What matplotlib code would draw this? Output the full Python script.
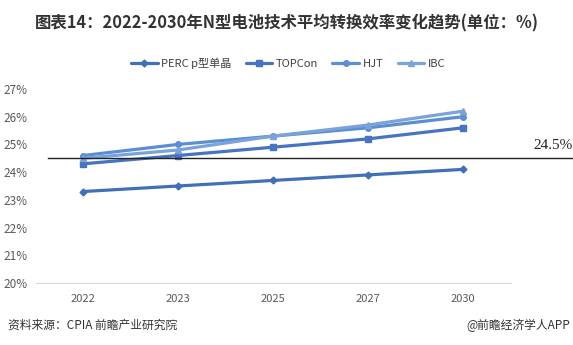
# Average conversion efficiency of N-type cell technologies, 2022-2030
import numpy as np
import matplotlib.pyplot as plt
import matplotlib.transforms as mtransforms

plt.rcParams['font.family'] = ['Noto Sans CJK SC', 'DejaVu Sans']

# Data
years = ['2022', '2023', '2025', '2027', '2030']
perc = [23.3, 23.5, 23.7, 23.9, 24.1]
topcon = [24.3, 24.6, 24.9, 25.2, 25.6]
hjt = [24.6, 25.0, 25.3, 25.6, 26.0]
ibc = [24.5, 24.8, 25.3, 25.7, 26.2]
ref_level = 24.5
yticks = [20, 21, 22, 23, 24, 25, 26, 27]

fig = plt.figure(figsize=(5.73, 3.45), dpi=100)
ax = fig.add_axes([35.5 / 573, 1 - 283 / 345, 475 / 573, 194 / 345])

x = np.arange(len(years))
series = [
    ('PERC p型单晶', perc, '#4170B8', 'D', 3.5),
    ('TOPCon', topcon, '#4674C2', 's', 5),
    ('HJT', hjt, '#5C8ED2', 'o', 4),
    ('IBC', ibc, '#7AA3DC', '^', 4),
]
for name, vals, col, mk, ms in series:
    ax.plot(x, vals, color=col, lw=2.3, marker=mk, markersize=ms,
            label=name, solid_capstyle='round')

# Reference line across the whole plot width
trans = mtransforms.blended_transform_factory(ax.transAxes, ax.transData)
ax.plot([0.027, 1.135], [ref_level, ref_level], color='#222222', lw=1.0,
        transform=trans, clip_on=False)
ax.text(1.13, ref_level + 0.22, '24.5%', transform=trans, ha='right',
        va='bottom', fontsize=11, family='Liberation Serif', color='#222222')

ax.set_xlim(-0.5, len(years) - 0.5)
ax.set_ylim(20, 27)
ax.set_xticks(x)
ax.set_xticklabels(years, fontsize=8, color='#595959')
ax.set_yticks(yticks)
ax.set_yticklabels(['%d%%' % v for v in yticks], fontsize=8.5, color='#595959')
ax.tick_params(length=0, pad=8)
ax.tick_params(axis='y', pad=6)
for s in ['top', 'right', 'left']:
    ax.spines[s].set_visible(False)
ax.spines['bottom'].set_color('#D9D9D9')

fig.legend(loc='center', bbox_to_anchor=(288 / 573, 1 - 63 / 345), ncol=4,
           frameon=False, fontsize=8, handlelength=2.4, handletextpad=0.3,
           columnspacing=1.3, labelcolor='#404040')

fig.text(0.5, 1 - 23 / 345, '图表14：2022-2030年N型电池技术平均转换效率变化趋势(单位：%)',
         ha='center', va='center', fontsize=11.8, fontweight='bold', color='#333333')
fig.text(8 / 573, 1 - 325 / 345, '资料来源：CPIA 前瞻产业研究院', ha='left',
         va='center', fontsize=8.5, color='#333333')
fig.text(570 / 573, 1 - 325 / 345, '@前瞻经济学人APP', ha='right',
         va='center', fontsize=8.5, color='#333333')

fig.savefig('out.png', dpi=100, facecolor='white')
